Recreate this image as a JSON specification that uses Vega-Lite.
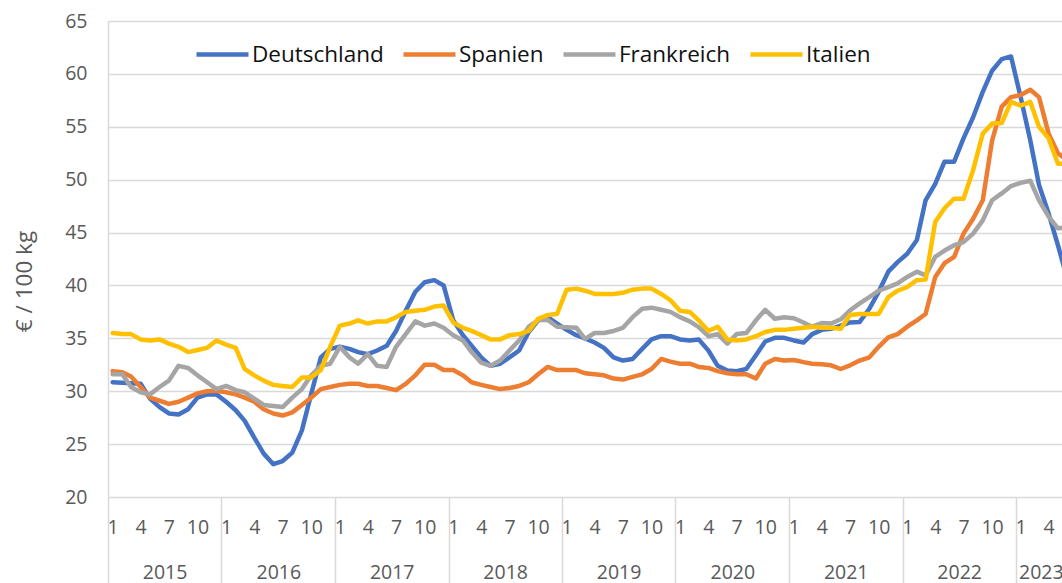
{
  "$schema": "https://vega.github.io/schema/vega-lite/v6.json",
  "width": 954,
  "height": 476,
  "autosize": {"type": "none"},
  "padding": {"left": 108, "top": 21, "right": 0, "bottom": 86},
  "background": "white",
  "config": {
    "view": {"stroke": null},
    "font": "Open Sans"
  },
  "data": {
    "values": [
      {"d": "2015-01-16", "Deutschland": 30.85, "Spanien": 31.9, "Frankreich": 31.6, "Italien": 35.5},
      {"d": "2015-02-16", "Deutschland": 30.8, "Spanien": 31.8, "Frankreich": 31.6, "Italien": 35.4},
      {"d": "2015-03-16", "Deutschland": 30.75, "Spanien": 31.4, "Frankreich": 30.4, "Italien": 35.4},
      {"d": "2015-04-16", "Deutschland": 30.7, "Spanien": 30.4, "Frankreich": 29.9, "Italien": 34.9},
      {"d": "2015-05-16", "Deutschland": 29.3, "Spanien": 29.4, "Frankreich": 29.7, "Italien": 34.8},
      {"d": "2015-06-16", "Deutschland": 28.5, "Spanien": 29.1, "Frankreich": 30.4, "Italien": 34.9},
      {"d": "2015-07-16", "Deutschland": 27.9, "Spanien": 28.8, "Frankreich": 31.0, "Italien": 34.5},
      {"d": "2015-08-16", "Deutschland": 27.8, "Spanien": 29.0, "Frankreich": 32.4, "Italien": 34.2},
      {"d": "2015-09-16", "Deutschland": 28.3, "Spanien": 29.4, "Frankreich": 32.2, "Italien": 33.7},
      {"d": "2015-10-16", "Deutschland": 29.4, "Spanien": 29.8, "Frankreich": 31.5, "Italien": 33.9},
      {"d": "2015-11-16", "Deutschland": 29.7, "Spanien": 30.0, "Frankreich": 30.85, "Italien": 34.1},
      {"d": "2015-12-16", "Deutschland": 29.7, "Spanien": 30.05, "Frankreich": 30.2, "Italien": 34.8},
      {"d": "2016-01-16", "Deutschland": 29.0, "Spanien": 29.9, "Frankreich": 30.5, "Italien": 34.4},
      {"d": "2016-02-16", "Deutschland": 28.2, "Spanien": 29.7, "Frankreich": 30.1, "Italien": 34.1},
      {"d": "2016-03-16", "Deutschland": 27.2, "Spanien": 29.4, "Frankreich": 29.9, "Italien": 32.1},
      {"d": "2016-04-16", "Deutschland": 25.6, "Spanien": 29.0, "Frankreich": 29.3, "Italien": 31.5},
      {"d": "2016-05-16", "Deutschland": 24.1, "Spanien": 28.3, "Frankreich": 28.7, "Italien": 31.0},
      {"d": "2016-06-16", "Deutschland": 23.1, "Spanien": 27.9, "Frankreich": 28.6, "Italien": 30.6},
      {"d": "2016-07-16", "Deutschland": 23.4, "Spanien": 27.7, "Frankreich": 28.5, "Italien": 30.5},
      {"d": "2016-08-16", "Deutschland": 24.2, "Spanien": 28.0, "Frankreich": 29.4, "Italien": 30.4},
      {"d": "2016-09-16", "Deutschland": 26.3, "Spanien": 28.7, "Frankreich": 30.2, "Italien": 31.3},
      {"d": "2016-10-16", "Deutschland": 29.75, "Spanien": 29.4, "Frankreich": 31.5, "Italien": 31.3},
      {"d": "2016-11-16", "Deutschland": 33.2, "Spanien": 30.2, "Frankreich": 32.4, "Italien": 32.0},
      {"d": "2016-12-16", "Deutschland": 34.0, "Spanien": 30.4, "Frankreich": 32.6, "Italien": 34.2},
      {"d": "2017-01-16", "Deutschland": 34.2, "Spanien": 30.6, "Frankreich": 34.2, "Italien": 36.2},
      {"d": "2017-02-16", "Deutschland": 34.0, "Spanien": 30.7, "Frankreich": 33.2, "Italien": 36.4},
      {"d": "2017-03-16", "Deutschland": 33.7, "Spanien": 30.7, "Frankreich": 32.6, "Italien": 36.7},
      {"d": "2017-04-16", "Deutschland": 33.5, "Spanien": 30.5, "Frankreich": 33.5, "Italien": 36.4},
      {"d": "2017-05-16", "Deutschland": 33.85, "Spanien": 30.5, "Frankreich": 32.4, "Italien": 36.6},
      {"d": "2017-06-16", "Deutschland": 34.3, "Spanien": 30.3, "Frankreich": 32.3, "Italien": 36.6},
      {"d": "2017-07-16", "Deutschland": 35.7, "Spanien": 30.1, "Frankreich": 34.2, "Italien": 37.0},
      {"d": "2017-08-16", "Deutschland": 37.6, "Spanien": 30.7, "Frankreich": 35.4, "Italien": 37.5},
      {"d": "2017-09-16", "Deutschland": 39.4, "Spanien": 31.5, "Frankreich": 36.6, "Italien": 37.6},
      {"d": "2017-10-16", "Deutschland": 40.3, "Spanien": 32.5, "Frankreich": 36.2, "Italien": 37.7},
      {"d": "2017-11-16", "Deutschland": 40.5, "Spanien": 32.5, "Frankreich": 36.4, "Italien": 38.0},
      {"d": "2017-12-16", "Deutschland": 40.0, "Spanien": 32.0, "Frankreich": 36.0, "Italien": 38.1},
      {"d": "2018-01-16", "Deutschland": 36.7, "Spanien": 32.0, "Frankreich": 35.3, "Italien": 36.5},
      {"d": "2018-02-16", "Deutschland": 35.3, "Spanien": 31.5, "Frankreich": 34.8, "Italien": 36.0},
      {"d": "2018-03-16", "Deutschland": 34.3, "Spanien": 30.85, "Frankreich": 33.7, "Italien": 35.7},
      {"d": "2018-04-16", "Deutschland": 33.2, "Spanien": 30.6, "Frankreich": 32.7, "Italien": 35.3},
      {"d": "2018-05-16", "Deutschland": 32.4, "Spanien": 30.4, "Frankreich": 32.4, "Italien": 34.9},
      {"d": "2018-06-16", "Deutschland": 32.6, "Spanien": 30.2, "Frankreich": 32.9, "Italien": 34.9},
      {"d": "2018-07-16", "Deutschland": 33.2, "Spanien": 30.3, "Frankreich": 33.85, "Italien": 35.3},
      {"d": "2018-08-16", "Deutschland": 33.85, "Spanien": 30.5, "Frankreich": 34.8, "Italien": 35.4},
      {"d": "2018-09-16", "Deutschland": 35.6, "Spanien": 30.85, "Frankreich": 36.1, "Italien": 35.7},
      {"d": "2018-10-16", "Deutschland": 36.7, "Spanien": 31.6, "Frankreich": 36.7, "Italien": 36.85},
      {"d": "2018-11-16", "Deutschland": 37.0, "Spanien": 32.3, "Frankreich": 36.75, "Italien": 37.2},
      {"d": "2018-12-16", "Deutschland": 36.4, "Spanien": 32.0, "Frankreich": 36.1, "Italien": 37.3},
      {"d": "2019-01-16", "Deutschland": 35.8, "Spanien": 32.0, "Frankreich": 36.05, "Italien": 39.6},
      {"d": "2019-02-16", "Deutschland": 35.3, "Spanien": 32.0, "Frankreich": 36.0, "Italien": 39.7},
      {"d": "2019-03-16", "Deutschland": 35.0, "Spanien": 31.7, "Frankreich": 34.95, "Italien": 39.5},
      {"d": "2019-04-16", "Deutschland": 34.6, "Spanien": 31.6, "Frankreich": 35.5, "Italien": 39.2},
      {"d": "2019-05-16", "Deutschland": 34.1, "Spanien": 31.5, "Frankreich": 35.5, "Italien": 39.2},
      {"d": "2019-06-16", "Deutschland": 33.2, "Spanien": 31.2, "Frankreich": 35.7, "Italien": 39.2},
      {"d": "2019-07-16", "Deutschland": 32.9, "Spanien": 31.1, "Frankreich": 36.0, "Italien": 39.3},
      {"d": "2019-08-16", "Deutschland": 33.05, "Spanien": 31.35, "Frankreich": 37.0, "Italien": 39.6},
      {"d": "2019-09-16", "Deutschland": 34.0, "Spanien": 31.6, "Frankreich": 37.8, "Italien": 39.7},
      {"d": "2019-10-16", "Deutschland": 34.9, "Spanien": 32.1, "Frankreich": 37.9, "Italien": 39.7},
      {"d": "2019-11-16", "Deutschland": 35.2, "Spanien": 33.05, "Frankreich": 37.7, "Italien": 39.2},
      {"d": "2019-12-16", "Deutschland": 35.2, "Spanien": 32.8, "Frankreich": 37.5, "Italien": 38.6},
      {"d": "2020-01-16", "Deutschland": 34.9, "Spanien": 32.6, "Frankreich": 37.0, "Italien": 37.6},
      {"d": "2020-02-16", "Deutschland": 34.8, "Spanien": 32.6, "Frankreich": 36.6, "Italien": 37.5},
      {"d": "2020-03-16", "Deutschland": 34.9, "Spanien": 32.3, "Frankreich": 36.05, "Italien": 36.7},
      {"d": "2020-04-16", "Deutschland": 33.85, "Spanien": 32.2, "Frankreich": 35.2, "Italien": 35.7},
      {"d": "2020-05-16", "Deutschland": 32.4, "Spanien": 31.9, "Frankreich": 35.4, "Italien": 36.1},
      {"d": "2020-06-16", "Deutschland": 31.95, "Spanien": 31.7, "Frankreich": 34.5, "Italien": 34.9},
      {"d": "2020-07-16", "Deutschland": 31.9, "Spanien": 31.6, "Frankreich": 35.4, "Italien": 34.8},
      {"d": "2020-08-16", "Deutschland": 32.1, "Spanien": 31.6, "Frankreich": 35.5, "Italien": 34.9},
      {"d": "2020-09-16", "Deutschland": 33.4, "Spanien": 31.2, "Frankreich": 36.7, "Italien": 35.2},
      {"d": "2020-10-16", "Deutschland": 34.7, "Spanien": 32.6, "Frankreich": 37.7, "Italien": 35.6},
      {"d": "2020-11-16", "Deutschland": 35.05, "Spanien": 33.05, "Frankreich": 36.85, "Italien": 35.8},
      {"d": "2020-12-16", "Deutschland": 35.05, "Spanien": 32.9, "Frankreich": 37.0, "Italien": 35.8},
      {"d": "2021-01-16", "Deutschland": 34.8, "Spanien": 32.95, "Frankreich": 36.9, "Italien": 35.9},
      {"d": "2021-02-16", "Deutschland": 34.6, "Spanien": 32.75, "Frankreich": 36.5, "Italien": 36.0},
      {"d": "2021-03-16", "Deutschland": 35.4, "Spanien": 32.6, "Frankreich": 36.1, "Italien": 36.1},
      {"d": "2021-04-16", "Deutschland": 35.8, "Spanien": 32.55, "Frankreich": 36.45, "Italien": 36.0},
      {"d": "2021-05-16", "Deutschland": 35.9, "Spanien": 32.45, "Frankreich": 36.4, "Italien": 36.0},
      {"d": "2021-06-16", "Deutschland": 36.2, "Spanien": 32.1, "Frankreich": 36.8, "Italien": 35.9},
      {"d": "2021-07-16", "Deutschland": 36.5, "Spanien": 32.45, "Frankreich": 37.65, "Italien": 37.2},
      {"d": "2021-08-16", "Deutschland": 36.55, "Spanien": 32.9, "Frankreich": 38.3, "Italien": 37.3},
      {"d": "2021-09-16", "Deutschland": 37.8, "Spanien": 33.2, "Frankreich": 38.9, "Italien": 37.3},
      {"d": "2021-10-16", "Deutschland": 39.4, "Spanien": 34.2, "Frankreich": 39.5, "Italien": 37.3},
      {"d": "2021-11-16", "Deutschland": 41.3, "Spanien": 35.1, "Frankreich": 39.85, "Italien": 38.9},
      {"d": "2021-12-16", "Deutschland": 42.2, "Spanien": 35.4, "Frankreich": 40.2, "Italien": 39.5},
      {"d": "2022-01-16", "Deutschland": 43.0, "Spanien": 36.1, "Frankreich": 40.8, "Italien": 39.85},
      {"d": "2022-02-16", "Deutschland": 44.3, "Spanien": 36.7, "Frankreich": 41.3, "Italien": 40.5},
      {"d": "2022-03-16", "Deutschland": 48.05, "Spanien": 37.3, "Frankreich": 40.95, "Italien": 40.55},
      {"d": "2022-04-16", "Deutschland": 49.6, "Spanien": 40.8, "Frankreich": 42.7, "Italien": 46.0},
      {"d": "2022-05-16", "Deutschland": 51.7, "Spanien": 42.1, "Frankreich": 43.3, "Italien": 47.3},
      {"d": "2022-06-16", "Deutschland": 51.7, "Spanien": 42.7, "Frankreich": 43.8, "Italien": 48.2},
      {"d": "2022-07-16", "Deutschland": 53.9, "Spanien": 44.9, "Frankreich": 44.1, "Italien": 48.2},
      {"d": "2022-08-16", "Deutschland": 55.9, "Spanien": 46.3, "Frankreich": 44.9, "Italien": 50.9},
      {"d": "2022-09-16", "Deutschland": 58.3, "Spanien": 48.05, "Frankreich": 46.15, "Italien": 54.35},
      {"d": "2022-10-16", "Deutschland": 60.3, "Spanien": 53.7, "Frankreich": 48.05, "Italien": 55.3},
      {"d": "2022-11-16", "Deutschland": 61.4, "Spanien": 56.9, "Frankreich": 48.7, "Italien": 55.35},
      {"d": "2022-12-16", "Deutschland": 61.65, "Spanien": 57.8, "Frankreich": 49.4, "Italien": 57.35},
      {"d": "2023-01-16", "Deutschland": 57.8, "Spanien": 58.0, "Frankreich": 49.7, "Italien": 57.0},
      {"d": "2023-02-16", "Deutschland": 53.7, "Spanien": 58.5, "Frankreich": 49.9, "Italien": 57.35},
      {"d": "2023-03-16", "Deutschland": 49.5, "Spanien": 57.8, "Frankreich": 48.05, "Italien": 55.0},
      {"d": "2023-04-16", "Deutschland": 46.8, "Spanien": 54.35, "Frankreich": 46.5, "Italien": 53.9},
      {"d": "2023-05-16", "Deutschland": 43.8, "Spanien": 52.5, "Frankreich": 45.4, "Italien": 51.5},
      {"d": "2023-06-16", "Deutschland": 40.5, "Spanien": 51.8, "Frankreich": 45.5, "Italien": 51.5}
    ]
  },
  "transform": [
    {"fold": ["Deutschland", "Spanien", "Frankreich", "Italien"], "as": ["Land", "Preis"]}
  ],
  "layer": [
    {
      "mark": {"type": "line", "strokeWidth": 4.5, "strokeJoin": "round", "strokeCap": "round", "clip": true},
      "encoding": {
        "x": {
          "field": "d", "type": "temporal",
          "scale": {"type": "utc", "domain": [{"year": 2015, "month": 1, "date": 1, "utc": true}, {"year": 2023, "month": 5, "date": 29, "utc": true}]},
          "axis": {
            "orient": "bottom",
            "title": null, "grid": false, "domain": false, "ticks": false,
            "labelFont": "Open Sans", "labelFontSize": 19.5, "labelColor": "#595959",
            "labelPadding": 30, "labelBaseline": "middle", "labelAlign": "center",
            "labelOverlap": false, "labelFlush": false, "labelBound": false,
            "values": [
              {"year": 2015, "month": 1, "date": 16, "utc": true}, {"year": 2015, "month": 4, "date": 16, "utc": true}, {"year": 2015, "month": 7, "date": 16, "utc": true}, {"year": 2015, "month": 10, "date": 16, "utc": true},
              {"year": 2016, "month": 1, "date": 16, "utc": true}, {"year": 2016, "month": 4, "date": 16, "utc": true}, {"year": 2016, "month": 7, "date": 16, "utc": true}, {"year": 2016, "month": 10, "date": 16, "utc": true},
              {"year": 2017, "month": 1, "date": 16, "utc": true}, {"year": 2017, "month": 4, "date": 16, "utc": true}, {"year": 2017, "month": 7, "date": 16, "utc": true}, {"year": 2017, "month": 10, "date": 16, "utc": true},
              {"year": 2018, "month": 1, "date": 16, "utc": true}, {"year": 2018, "month": 4, "date": 16, "utc": true}, {"year": 2018, "month": 7, "date": 16, "utc": true}, {"year": 2018, "month": 10, "date": 16, "utc": true},
              {"year": 2019, "month": 1, "date": 16, "utc": true}, {"year": 2019, "month": 4, "date": 16, "utc": true}, {"year": 2019, "month": 7, "date": 16, "utc": true}, {"year": 2019, "month": 10, "date": 16, "utc": true},
              {"year": 2020, "month": 1, "date": 16, "utc": true}, {"year": 2020, "month": 4, "date": 16, "utc": true}, {"year": 2020, "month": 7, "date": 16, "utc": true}, {"year": 2020, "month": 10, "date": 16, "utc": true},
              {"year": 2021, "month": 1, "date": 16, "utc": true}, {"year": 2021, "month": 4, "date": 16, "utc": true}, {"year": 2021, "month": 7, "date": 16, "utc": true}, {"year": 2021, "month": 10, "date": 16, "utc": true},
              {"year": 2022, "month": 1, "date": 16, "utc": true}, {"year": 2022, "month": 4, "date": 16, "utc": true}, {"year": 2022, "month": 7, "date": 16, "utc": true}, {"year": 2022, "month": 10, "date": 16, "utc": true},
              {"year": 2023, "month": 1, "date": 16, "utc": true}, {"year": 2023, "month": 4, "date": 16, "utc": true}
            ],
            "labelExpr": "'' + (utcmonth(datum.value) + 1)"
          }
        },
        "y": {
          "field": "Preis", "type": "quantitative",
          "scale": {"domain": [20, 65], "nice": false, "zero": false},
          "axis": {
            "orient": "left",
            "title": "€ / 100 kg", "titleFont": "Open Sans", "titleFontSize": 22.5, "titleFontWeight": "normal", "titleColor": "#595959",
            "titleX": -84, "titleY": 260, "titleAngle": -90, "titleAlign": "center", "titleBaseline": "middle",
            "values": [20, 25, 30, 35, 40, 45, 50, 55, 60, 65],
            "grid": true, "gridColor": "#d9d9d9", "gridWidth": 1.5,
            "domain": true, "domainColor": "#d9d9d9", "domainWidth": 1.5,
            "ticks": false, "labelPadding": 21,
            "labelFont": "Open Sans", "labelFontSize": 19.5, "labelColor": "#595959"
          }
        },
        "color": {
          "field": "Land", "type": "nominal",
          "scale": {"domain": ["Deutschland", "Spanien", "Frankreich", "Italien"], "range": ["#4472C4", "#ED7D31", "#A5A5A5", "#FFC000"]},
          "legend": {
            "title": null, "orient": "none", "legendX": 86, "legendY": 5, "direction": "horizontal",
            "symbolType": "stroke", "symbolSize": 2704, "symbolStrokeWidth": 4.5,
            "labelFont": "Open Sans", "labelFontSize": 22.5, "labelColor": "#111111", "labelOffset": 1,
            "columnPadding": 10, "padding": 0
          }
        }
      }
    },
    {
      "mark": {"type": "point", "opacity": 0},
      "encoding": {
        "x": {
          "field": "d", "type": "temporal",
          "axis": {
            "orient": "bottom",
            "title": null, "grid": false, "domain": false, "ticks": false,
            "labelFont": "Open Sans", "labelFontSize": 19.5, "labelColor": "#595959",
            "labelPadding": 75, "labelBaseline": "middle", "labelAlign": "center",
            "labelOverlap": false, "labelFlush": false, "labelBound": false,
            "values": [
              {"year": 2015, "month": 7, "date": 2, "utc": true}, {"year": 2016, "month": 7, "date": 2, "utc": true},
              {"year": 2017, "month": 7, "date": 2, "utc": true}, {"year": 2018, "month": 7, "date": 2, "utc": true},
              {"year": 2019, "month": 7, "date": 2, "utc": true}, {"year": 2020, "month": 7, "date": 2, "utc": true},
              {"year": 2021, "month": 7, "date": 2, "utc": true}, {"year": 2022, "month": 7, "date": 2, "utc": true},
              {"year": 2023, "month": 3, "date": 22, "utc": true}
            ],
            "labelExpr": "utcFormat(datum.value, '%Y')"
          }
        }
      }
    },
    {
      "mark": {"type": "point", "opacity": 0},
      "encoding": {
        "x": {
          "field": "d", "type": "temporal",
          "axis": {
            "orient": "bottom",
            "title": null, "grid": false, "domain": false, "labels": false,
            "ticks": true, "tickSize": 86, "tickColor": "#d9d9d9", "tickWidth": 1.5,
            "values": [
              {"year": 2015, "month": 1, "date": 1, "utc": true}, {"year": 2016, "month": 1, "date": 1, "utc": true},
              {"year": 2017, "month": 1, "date": 1, "utc": true}, {"year": 2018, "month": 1, "date": 1, "utc": true},
              {"year": 2019, "month": 1, "date": 1, "utc": true}, {"year": 2020, "month": 1, "date": 1, "utc": true},
              {"year": 2021, "month": 1, "date": 1, "utc": true}, {"year": 2022, "month": 1, "date": 1, "utc": true},
              {"year": 2023, "month": 1, "date": 1, "utc": true}
            ]
          }
        }
      }
    }
  ],
  "resolve": {"axis": {"x": "independent"}}
}
